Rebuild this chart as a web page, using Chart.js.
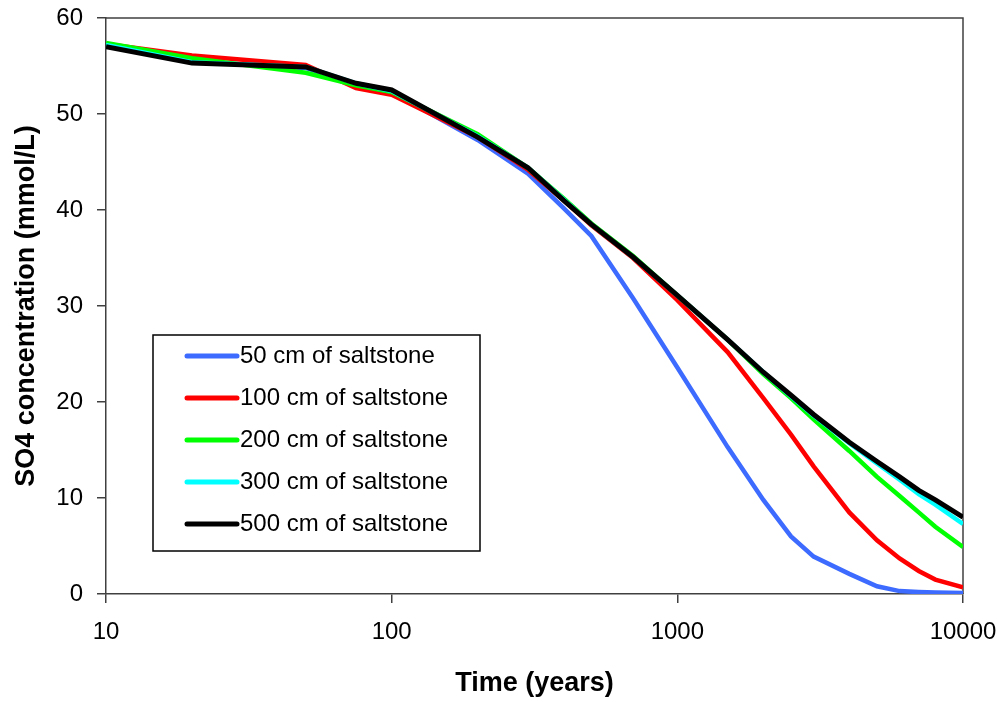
<!DOCTYPE html>
<html>
<head>
<meta charset="utf-8">
<script src="https://cdn.jsdelivr.net/npm/chart.js@4.4.1/dist/chart.umd.min.js"></script>
<style>
    html, body { margin: 0; padding: 0; background: #fff; }
    #chartBox { width: 1007px; height: 702px; }
</style>
</head>
<body>
<div id="chartBox"><canvas id="myChart" width="1007" height="702"></canvas></div>
<script>
// time axis (years)
const years = [10, 20, 50, 75, 100, 200, 300, 400, 500, 700, 1000, 1500, 2000, 2500, 3000, 4000, 5000, 6000, 7000, 8000, 10000];

// SO4 concentration (mmol/L) for each saltstone thickness
const cm50  = [57.1, 55.5, 54.8, 53.1, 52.3, 47.3, 43.8, 40.2, 37.3, 30.8, 23.6, 15.3, 9.8, 6.0, 3.9, 2.1, 0.8, 0.3, 0.2, 0.15, 0.1];
const cm100 = [57.3, 56.1, 55.1, 52.7, 52.0, 47.6, 44.2, 41.0, 38.4, 35.0, 30.6, 25.2, 20.4, 16.6, 13.3, 8.5, 5.6, 3.7, 2.4, 1.5, 0.7];
const cm200 = [57.4, 55.8, 54.3, 53.0, 52.3, 47.9, 44.4, 41.2, 38.6, 35.2, 31.1, 26.5, 22.9, 20.4, 18.2, 14.9, 12.2, 10.2, 8.5, 7.0, 4.9];
const cm300 = [57.2, 55.4, 54.9, 53.2, 52.4, 47.7, 44.4, 41.1, 38.5, 35.1, 31.1, 26.5, 23.1, 20.6, 18.6, 15.7, 13.6, 11.9, 10.4, 9.3, 7.3];
const cm500 = [57.0, 55.3, 54.9, 53.2, 52.5, 47.6, 44.4, 41.0, 38.5, 35.1, 31.1, 26.5, 23.1, 20.7, 18.7, 15.8, 13.8, 12.2, 10.8, 9.8, 8.0];

const seriesNames = ['50 cm of saltstone', '100 cm of saltstone', '200 cm of saltstone', '300 cm of saltstone', '500 cm of saltstone'];
const seriesColors = ['#3d6bff', '#ff0000', '#00ff00', '#00ffff', '#000000'];

// x ticks shown
const xTicks = [10, 100, 1000, 10000];

const FONT = '"Liberation Sans", Arial, sans-serif';
const AXIS = '#404040';

const toPoints = (vals) => years.map((t, i) => ({ x: t, y: vals[i] }));

// legend box inside the plot
const boxLegend = {
    id: 'boxLegend',
    afterDraw(chart) {
        const ctx = chart.ctx;
        const ca = chart.chartArea;
        const left = ca.left + 47, top = ca.top + 317, w = 327, h = 216;

        ctx.save();
        ctx.fillStyle = '#fff';
        ctx.fillRect(left, top, w, h);
        ctx.strokeStyle = '#000';
        ctx.lineWidth = 1.5;
        ctx.strokeRect(left, top, w, h);

        ctx.font = '24px ' + FONT;
        ctx.textBaseline = 'middle';
        chart.data.datasets.forEach((ds, i) => {
            const y = top + 21 + i * 42;
            ctx.strokeStyle = ds.borderColor;
            ctx.lineWidth = 5;
            ctx.lineCap = 'round';
            ctx.beginPath();
            ctx.moveTo(left + 34, y);
            ctx.lineTo(left + 84, y);
            ctx.stroke();
            ctx.fillStyle = '#000';
            ctx.fillText(ds.label, left + 87, y);
        });
        ctx.restore();
    }
};

// top and right frame of plot area
const frame = {
    id: 'frame',
    beforeDatasetsDraw(chart) {
        const ctx = chart.ctx;
        const ca = chart.chartArea;
        ctx.save();
        ctx.strokeStyle = AXIS;
        ctx.lineWidth = 1.5;
        ctx.beginPath();
        ctx.moveTo(ca.left, ca.top);
        ctx.lineTo(ca.right, ca.top);
        ctx.lineTo(ca.right, ca.bottom);
        ctx.stroke();
        ctx.restore();
    }
};

// no extra label padding, the layout padding sets the plot box
const noLabelPad = (scale) => {
    scale.paddingTop = 0;
    scale.paddingBottom = 0;
    scale.paddingLeft = 0;
    scale.paddingRight = 0;
};

window.onload = function () {
    const allValues = [cm50, cm100, cm200, cm300, cm500];

    const datasets = allValues.map((vals, i) => ({
        label: seriesNames[i],
        data: toPoints(vals),
        borderColor: seriesColors[i],
        backgroundColor: seriesColors[i],
        borderWidth: i === 4 ? 5 : 4.5,
        pointRadius: 0,
        tension: 0,
        fill: false,
        order: 5 - i
    }));

    new Chart('myChart', {
        type: 'line',
        data: { datasets: datasets },
        options: {
            responsive: false,
            animation: false,
            devicePixelRatio: 1,
            layout: { padding: { left: 0, right: 44, top: 18, bottom: 0 } },
            plugins: {
                legend: { display: false },
                tooltip: { enabled: false }
            },
            scales: {
                x: {
                    type: 'logarithmic',
                    min: 10,
                    max: 10000,
                    afterBuildTicks: (scale) => {
                        scale.ticks = xTicks.map(v => ({ value: v, major: true }));
                    },
                    afterFit: (scale) => { scale.height = 108; noLabelPad(scale); },
                    ticks: {
                        autoSkip: false,
                        maxRotation: 0,
                        padding: 15,
                        color: '#000',
                        font: { family: FONT, size: 24 },
                        callback: (v) => String(v)
                    },
                    grid: { drawOnChartArea: false, drawTicks: true, tickLength: 9, color: AXIS, lineWidth: 1.5 },
                    border: { display: true, color: AXIS, width: 1.5 },
                    title: {
                        display: true,
                        text: 'Time (years)',
                        color: '#000',
                        font: { family: FONT, size: 27, weight: 'bold' },
                        padding: { top: 0, bottom: 2 }
                    }
                },
                y: {
                    min: 0,
                    max: 60,
                    afterFit: (scale) => { scale.width = 106; noLabelPad(scale); },
                    ticks: {
                        stepSize: 10,
                        padding: 14,
                        color: '#000',
                        font: { family: FONT, size: 24 }
                    },
                    grid: { drawOnChartArea: false, drawTicks: true, tickLength: 9, color: AXIS, lineWidth: 1.5 },
                    border: { display: true, color: AXIS, width: 1.5 },
                    title: {
                        display: true,
                        text: 'SO4 concentration (mmol/L)',
                        color: '#000',
                        font: { family: FONT, size: 27, weight: 'bold' },
                        padding: { top: 10, bottom: 0 }
                    }
                }
            }
        },
        plugins: [frame, boxLegend]
    });
};
</script>
</body>
</html>
